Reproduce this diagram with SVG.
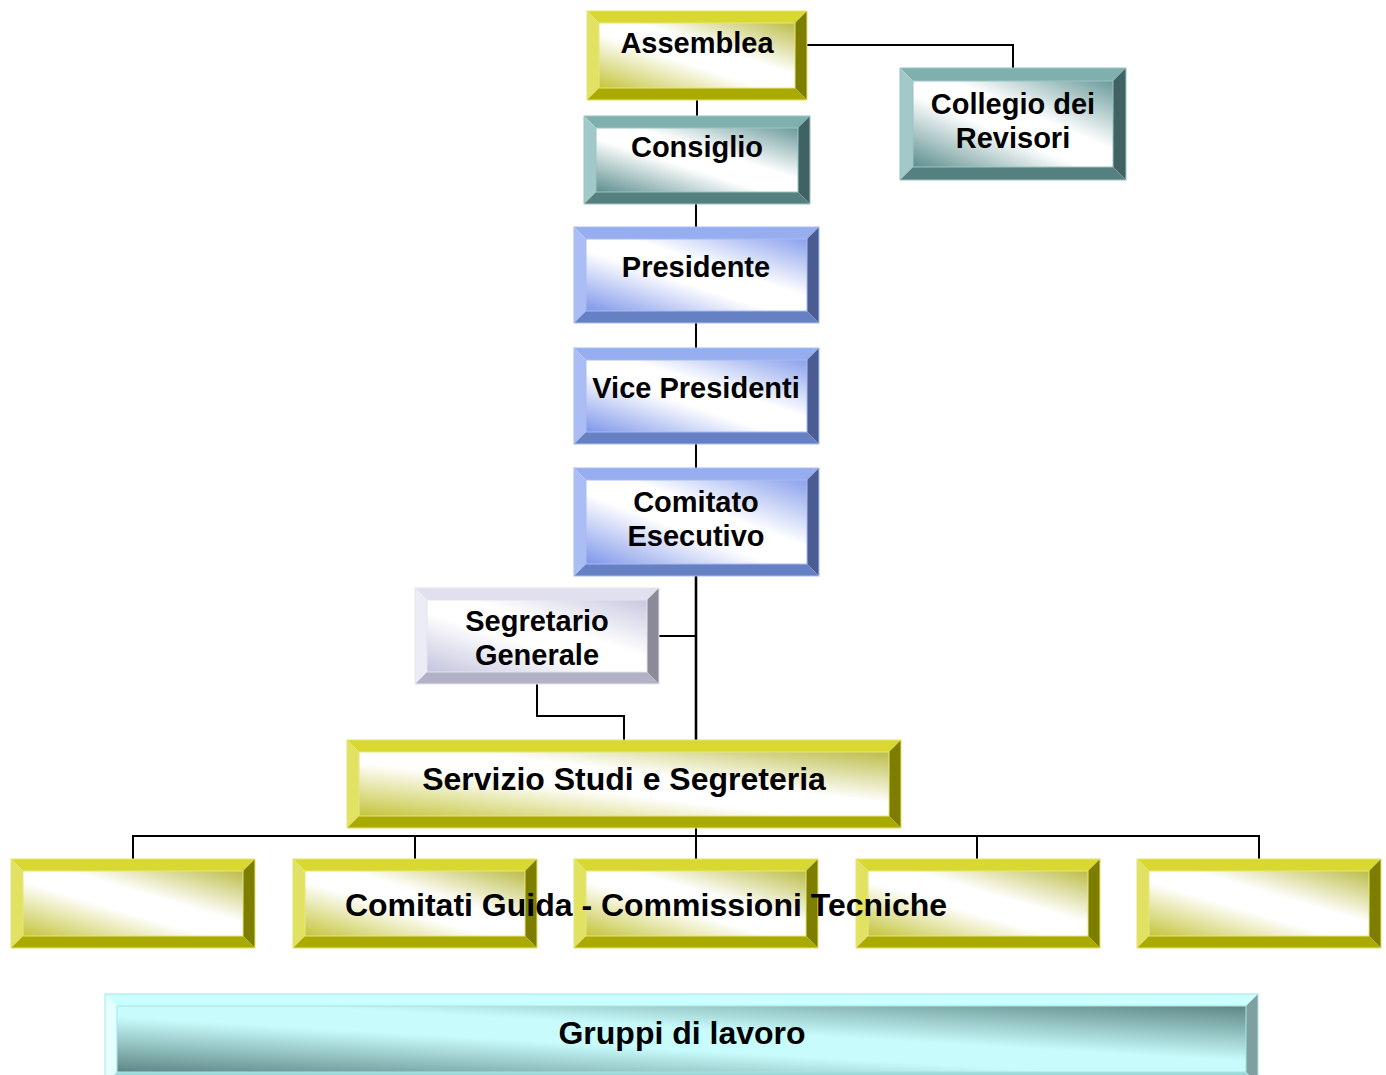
<svg xmlns="http://www.w3.org/2000/svg" width="1386" height="1075" viewBox="0 0 1386 1075">
<style>
text{font-family:"Liberation Sans",Arial,sans-serif;font-weight:bold;fill:#000;text-anchor:middle}
.f29{font-size:29px}.f32{font-size:32px}
.y .t{fill:#d8d830}.y .l{fill:#e2e262}.y .r{fill:#7d7d00}.y .b{fill:#aaaa00}.y .i{fill:url(#gY);stroke:#e6e680;stroke-width:1}
.k .t{fill:#80b0ae}.k .l{fill:#a2c8c8}.k .r{fill:#406262}.k .b{fill:#548080}.k .i{fill:url(#gK);stroke:#9cc4c4;stroke-width:1}
.u .t{fill:#96aef0}.u .l{fill:#aabdf4}.u .r{fill:#4a5c92}.u .b{fill:#6680c4}.u .i{fill:url(#gU);stroke:#a8bcf2;stroke-width:1}
.v .t{fill:#e0e0ee}.v .l{fill:#ececf6}.v .r{fill:#8a8a98}.v .b{fill:#b2b2c6}.v .i{fill:url(#gV);stroke:#e4e4f0;stroke-width:1}
.c .t{fill:#ccffff}.c .l{fill:#e4ffff}.c .r{fill:#7fa09e}.c .b{fill:#9fdada}.c .i{fill:url(#gC);stroke:#a6e4e4;stroke-width:1}
.o{fill:none;stroke-width:1}
.y .o{stroke:#e4e470}.k .o{stroke:#9cc4c4}.u .o{stroke:#a8bcf2}.v .o{stroke:#e4e4f0}.c .o{stroke:#a6e4e4}
#connectors path{fill:none;stroke:#000;stroke-width:2}
</style>
<defs>
<linearGradient id="gY" x1="0" y1="1" x2="1" y2="0"><stop offset="0" stop-color="#c4c43a"/><stop offset="0.42" stop-color="#ffffff"/><stop offset="0.6" stop-color="#ffffff"/><stop offset="1" stop-color="#bcbc48"/></linearGradient>
<linearGradient id="gK" x1="0" y1="1" x2="1" y2="0"><stop offset="0" stop-color="#5c8e8e"/><stop offset="0.42" stop-color="#ffffff"/><stop offset="0.6" stop-color="#ffffff"/><stop offset="1" stop-color="#6a9a9a"/></linearGradient>
<linearGradient id="gU" x1="0" y1="1" x2="1" y2="0"><stop offset="0" stop-color="#7e96ea"/><stop offset="0.42" stop-color="#ffffff"/><stop offset="0.6" stop-color="#ffffff"/><stop offset="1" stop-color="#8aa0ec"/></linearGradient>
<linearGradient id="gV" x1="0" y1="1" x2="1" y2="0"><stop offset="0" stop-color="#c4c4de"/><stop offset="0.42" stop-color="#ffffff"/><stop offset="0.6" stop-color="#ffffff"/><stop offset="1" stop-color="#c8c8e0"/></linearGradient>
<linearGradient id="gC" x1="0" y1="1" x2="1" y2="0"><stop offset="0" stop-color="#5c8684"/><stop offset="0.42" stop-color="#c8fcfc"/><stop offset="0.58" stop-color="#c8fcfc"/><stop offset="1" stop-color="#5c8684"/></linearGradient>
</defs>
<rect width="1386" height="1075" fill="#ffffff"/>

<g id="connectors">
<path d="M697,100 V116"/>
<path d="M807,45 H1013 V68"/>
<path d="M696,204 V227"/>
<path d="M696,323 V348"/>
<path d="M696,444 V468"/>
<path d="M696,576 V740" style="stroke-width:2.6"/>
<path d="M659,636 H696"/>
<path d="M537,684 V716 H624 V740"/>
<path d="M696,828 V859"/>
<path d="M133,859 V836 H1259 V859"/>
<path d="M415,836 V859"/>
<path d="M977,836 V859"/>
</g>

<g id="assemblea" class="y">
<polygon class="t" points="587,11 807,11 795,23 599,23"/>
<polygon class="l" points="587,11 599,23 599,88 587,100"/>
<polygon class="r" points="807,11 807,100 795,88 795,23"/>
<polygon class="b" points="587,100 599,88 795,88 807,100"/>
<rect class="i" x="599" y="23" width="196" height="65"/>
<rect class="o" x="587" y="11" width="220" height="89"/>
<text class="f29" x="697" y="53">Assemblea</text>
</g>

<g id="consiglio" class="k">
<polygon class="t" points="584,116 810,116 798,128 596,128"/>
<polygon class="l" points="584,116 596,128 596,192 584,204"/>
<polygon class="r" points="810,116 810,204 798,192 798,128"/>
<polygon class="b" points="584,204 596,192 798,192 810,204"/>
<rect class="i" x="596" y="128" width="202" height="64"/>
<rect class="o" x="584" y="116" width="226" height="88"/>
<text class="f29" x="697" y="157">Consiglio</text>
</g>

<g id="collegio" class="k">
<polygon class="t" points="900,68 1126,68 1113,81 913,81"/>
<polygon class="l" points="900,68 913,81 913,167 900,180"/>
<polygon class="r" points="1126,68 1126,180 1113,167 1113,81"/>
<polygon class="b" points="900,180 913,167 1113,167 1126,180"/>
<rect class="i" x="913" y="81" width="200" height="86"/>
<rect class="o" x="900" y="68" width="226" height="112"/>
<text class="f29" x="1013" y="114">Collegio dei</text>
<text class="f29" x="1013" y="148">Revisori</text>
</g>

<g id="presidente" class="u">
<polygon class="t" points="574,227 819,227 807,239 586,239"/>
<polygon class="l" points="574,227 586,239 586,311 574,323"/>
<polygon class="r" points="819,227 819,323 807,311 807,239"/>
<polygon class="b" points="574,323 586,311 807,311 819,323"/>
<rect class="i" x="586" y="239" width="221" height="72"/>
<rect class="o" x="574" y="227" width="245" height="96"/>
<text class="f29" x="696" y="277">Presidente</text>
</g>

<g id="vice-presidenti" class="u">
<polygon class="t" points="574,348 819,348 807,360 586,360"/>
<polygon class="l" points="574,348 586,360 586,432 574,444"/>
<polygon class="r" points="819,348 819,444 807,432 807,360"/>
<polygon class="b" points="574,444 586,432 807,432 819,444"/>
<rect class="i" x="586" y="360" width="221" height="72"/>
<rect class="o" x="574" y="348" width="245" height="96"/>
<text class="f29" x="696" y="398">Vice Presidenti</text>
</g>

<g id="comitato-esecutivo" class="u">
<polygon class="t" points="574,468 819,468 807,480 586,480"/>
<polygon class="l" points="574,468 586,480 586,564 574,576"/>
<polygon class="r" points="819,468 819,576 807,564 807,480"/>
<polygon class="b" points="574,576 586,564 807,564 819,576"/>
<rect class="i" x="586" y="480" width="221" height="84"/>
<rect class="o" x="574" y="468" width="245" height="108"/>
<text class="f29" x="696" y="512">Comitato</text>
<text class="f29" x="696" y="546">Esecutivo</text>
</g>

<g id="segretario-generale" class="v">
<polygon class="t" points="415,588 659,588 647,600 427,600"/>
<polygon class="l" points="415,588 427,600 427,672 415,684"/>
<polygon class="r" points="659,588 659,684 647,672 647,600"/>
<polygon class="b" points="415,684 427,672 647,672 659,684"/>
<rect class="i" x="427" y="600" width="220" height="72"/>
<rect class="o" x="415" y="588" width="244" height="96"/>
<text class="f29" x="537" y="631">Segretario</text>
<text class="f29" x="537" y="665">Generale</text>
</g>

<g id="servizio-studi" class="y">
<polygon class="t" points="347,740 901,740 889,752 359,752"/>
<polygon class="l" points="347,740 359,752 359,816 347,828"/>
<polygon class="r" points="901,740 901,828 889,816 889,752"/>
<polygon class="b" points="347,828 359,816 889,816 901,828"/>
<rect class="i" x="359" y="752" width="530" height="64"/>
<rect class="o" x="347" y="740" width="554" height="88"/>
<text class="f32" x="624" y="790">Servizio Studi e Segreteria</text>
</g>

<g id="comitato-guida-1" class="y">
<polygon class="t" points="11,859 255,859 243,871 23,871"/>
<polygon class="l" points="11,859 23,871 23,936 11,948"/>
<polygon class="r" points="255,859 255,948 243,936 243,871"/>
<polygon class="b" points="11,948 23,936 243,936 255,948"/>
<rect class="i" x="23" y="871" width="220" height="65"/>
<rect class="o" x="11" y="859" width="244" height="89"/>
</g>

<g id="comitato-guida-2" class="y">
<polygon class="t" points="293,859 537,859 525,871 305,871"/>
<polygon class="l" points="293,859 305,871 305,936 293,948"/>
<polygon class="r" points="537,859 537,948 525,936 525,871"/>
<polygon class="b" points="293,948 305,936 525,936 537,948"/>
<rect class="i" x="305" y="871" width="220" height="65"/>
<rect class="o" x="293" y="859" width="244" height="89"/>
</g>

<g id="comitato-guida-3" class="y">
<polygon class="t" points="574,859 818,859 806,871 586,871"/>
<polygon class="l" points="574,859 586,871 586,936 574,948"/>
<polygon class="r" points="818,859 818,948 806,936 806,871"/>
<polygon class="b" points="574,948 586,936 806,936 818,948"/>
<rect class="i" x="586" y="871" width="220" height="65"/>
<rect class="o" x="574" y="859" width="244" height="89"/>
</g>

<g id="comitato-guida-4" class="y">
<polygon class="t" points="856,859 1100,859 1088,871 868,871"/>
<polygon class="l" points="856,859 868,871 868,936 856,948"/>
<polygon class="r" points="1100,859 1100,948 1088,936 1088,871"/>
<polygon class="b" points="856,948 868,936 1088,936 1100,948"/>
<rect class="i" x="868" y="871" width="220" height="65"/>
<rect class="o" x="856" y="859" width="244" height="89"/>
</g>

<g id="comitato-guida-5" class="y">
<polygon class="t" points="1137,859 1381,859 1369,871 1149,871"/>
<polygon class="l" points="1137,859 1149,871 1149,936 1137,948"/>
<polygon class="r" points="1381,859 1381,948 1369,936 1369,871"/>
<polygon class="b" points="1137,948 1149,936 1369,936 1381,948"/>
<rect class="i" x="1149" y="871" width="220" height="65"/>
<rect class="o" x="1137" y="859" width="244" height="89"/>
</g>

<g id="label-comitati-guida">
<text class="f32" x="646" y="916">Comitati Guida - Commissioni Tecniche</text>
</g>

<g id="gruppi-di-lavoro" class="c">
<polygon class="t" points="105,994 1258,994 1246,1006 117,1006"/>
<polygon class="l" points="105,994 117,1006 117,1072 105,1084"/>
<polygon class="r" points="1258,994 1258,1084 1246,1072 1246,1006"/>
<polygon class="b" points="105,1084 117,1072 1246,1072 1258,1084"/>
<rect class="i" x="117" y="1006" width="1129" height="66"/>
<rect class="o" x="105" y="994" width="1153" height="90"/>
<text class="f32" x="682" y="1044">Gruppi di lavoro</text>
</g>
</svg>
